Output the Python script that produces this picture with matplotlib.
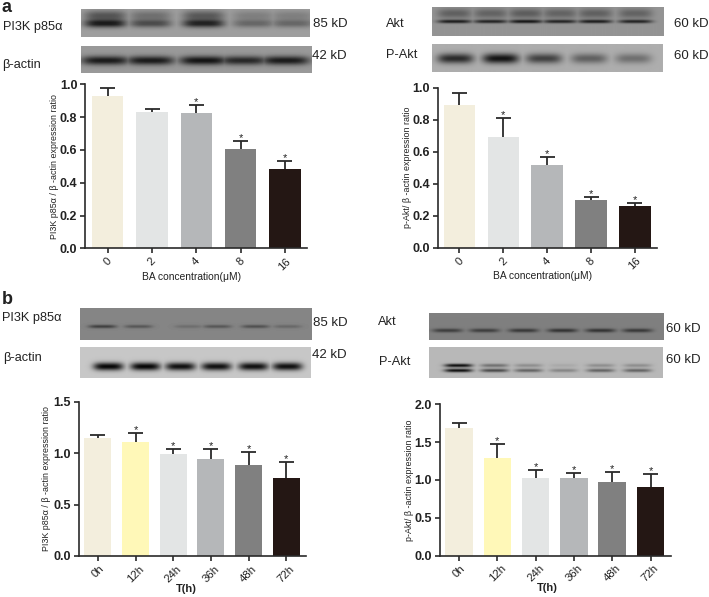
import matplotlib
matplotlib.use("Agg")
import matplotlib.pyplot as plt
import numpy as np

W, H = 709, 597
plt.rcParams['font.family'] = ['Liberation Sans', 'DejaVu Sans']

# bar data
ba_labels = ['0', '2', '4', '8', '16']
time_labels = ['0h', '12h', '24h', '36h', '48h', '72h']

pi3k_ba = [0.929, 0.831, 0.827, 0.606, 0.484]
pi3k_ba_err = [0.047, 0.021, 0.047, 0.048, 0.051]
pi3k_ba_star = [False, False, True, True, True]

akt_ba = [0.892, 0.690, 0.519, 0.300, 0.262]
akt_ba_err = [0.077, 0.118, 0.046, 0.019, 0.019]
akt_ba_star = [False, True, True, True, True]

pi3k_t = [1.147, 1.108, 0.991, 0.946, 0.884, 0.761]
pi3k_t_err = [0.029, 0.091, 0.046, 0.097, 0.123, 0.156]
pi3k_t_star = [False, True, True, True, True, True]

akt_t = [1.687, 1.291, 1.022, 1.022, 0.969, 0.907]
akt_t_err = [0.062, 0.180, 0.115, 0.066, 0.137, 0.177]
akt_t_star = [False, True, True, True, True, True]

colors_ba = ['#F3EEDD', '#E3E5E5', '#B5B7B9', '#808080', '#241714']
colors_t = ['#F3EEDD', '#FFF8B8', '#E3E5E5', '#B5B7B9', '#808080', '#241714']

# blot band strengths per lane (0-1)
blot_pi3k_ba = [0.95, 0.6, 0.9, 0.4, 0.4]
blot_actin_ba = [0.95, 0.95, 1.0, 0.85, 0.95]
blot_akt_ba = [0.9, 0.85, 0.95, 0.85, 0.9, 0.85]
blot_pakt_ba = [0.85, 1.0, 0.7, 0.5, 0.4]
blot_pi3k_t = [0.6, 0.4, 0.2, 0.4, 0.45, 0.25]
blot_actin_t = [1.0, 1.0, 0.95, 0.95, 0.95, 0.95]
blot_akt_t = [0.6, 0.6, 0.65, 0.7, 0.7, 0.65]
blot_pakt_t = [1.0, 0.65, 0.5, 0.3, 0.5, 0.5]


def box(x0, y0, x1, y1):
    # pixel box (y from the top) to figure coords
    return [x0 / W, 1 - y1 / H, (x1 - x0) / W, (y1 - y0) / H]


def label(x, y, s, size=9.2, **kw):
    fig.text(x / W, 1 - y / H, s, fontsize=size, va='center', color='#222222', **kw)


def blot(x0, y0, x1, y1, bg, strengths, centers, band_y, half_w, band_h, dark=0.08, smear=0.0, double=None):
    w, h = int(x1 - x0), int(y1 - y0)
    xx, yy = np.meshgrid(np.arange(w) + x0, np.arange(h) + y0)
    cover = np.zeros((h, w))
    for s, c in zip(strengths, centers):
        across = np.exp(-((xx - c) / half_w) ** 4)
        band = np.exp(-((yy - band_y) / band_h) ** 2)
        if double is not None:
            band = band + s * np.exp(-((yy - band_y + double) / band_h) ** 2)
        if smear:
            band = band + smear * np.exp(-((yy - band_y + 8) / 5.0) ** 2)
        cover = np.maximum(cover, s * across * np.minimum(band, 1))
    img = bg + (dark - bg) * cover
    ax = fig.add_axes(box(x0, y0, x1, y1))
    ax.imshow(img, cmap='gray', vmin=0, vmax=1, aspect='auto', interpolation='bilinear')
    ax.axis('off')


def bar_panel(rect, first, step, values, errs, stars, colors, labels, ymax, yticks, ylabel, xlabel, bw, ylab_x, xlab_x,
              xlab_y, xlab_size=7.4, xlab_weight='normal'):
    x0, y0, x1, y1 = rect
    ax = fig.add_axes(box(x0, y0, x1, y1))
    xs = np.arange(len(values))
    tops = np.array(values) + np.array(errs)
    cap = 7.5 / step
    ax.bar(xs, values, width=bw, color=colors, linewidth=0)
    # upper whisker only, as in the original
    ax.vlines(xs, values, tops, color='#2a2a2a', linewidth=1.3)
    ax.hlines(tops, xs - cap, xs + cap, color='#2a2a2a', linewidth=1.3)
    for i in xs:
        if stars[i]:
            ax.annotate('*', (i, tops[i]), xytext=(0, -1.5), textcoords='offset points',
                        ha='center', va='bottom', fontsize=8, color='#222222')
    ax.set_xlim((x0 - first) / step, (x1 - first) / step)
    ax.set_ylim(0, ymax)
    ax.set_yticks(yticks)
    ax.set_yticklabels(['%.1f' % t for t in yticks], fontsize=9, fontweight='bold', color='#222222')
    ax.set_xticks(xs)
    ax.set_xticklabels(labels, rotation=45, ha='center', fontsize=8.2, color='#222222')
    ax.tick_params(length=3.5, width=1.2, color='#2a2a2a', pad=2)
    for s in ['top', 'right']:
        ax.spines[s].set_visible(False)
    for s in ['left', 'bottom']:
        ax.spines[s].set_linewidth(1.2)
        ax.spines[s].set_color('#2a2a2a')
    fig.text(ylab_x / W, 1 - (y0 + y1) / 2 / H, ylabel, rotation=90, fontsize=6.4, ha='center', va='center',
             color='#222222')
    fig.text(xlab_x / W, 1 - xlab_y / H, xlabel, fontsize=xlab_size, ha='center', va='center',
             color='#222222', fontweight=xlab_weight)


fig = plt.figure(figsize=(W / 100, H / 100), dpi=100)

# panel a
fig.text(2 / W, 1 - 12 / H, 'a', fontsize=13, fontweight='bold', color='#222222', va='baseline')
label(3, 27, 'PI3K p85α')
label(2, 65, 'β-actin')
label(313, 24, '85 kD', size=9.5)
label(312, 56, '42 kD', size=9.5)
blot(81, 9, 310, 37, 0.62, blot_pi3k_ba, [105, 150, 203, 253, 292], 23, 21, 4.0, smear=0.55)
blot(81, 46, 312, 73, 0.6, blot_actin_ba, [105, 150, 203, 243, 285], 60, 24, 4.5)

label(386, 24, 'Akt')
label(386, 55, 'P-Akt')
label(674, 24, '60 kD', size=9.5)
label(674, 56, '60 kD', size=9.5)
blot(432, 7, 663, 36, 0.58, blot_akt_ba, [454, 490, 525, 559, 594, 634], 21, 17, 1.8, smear=0.45)
blot(432, 44, 662, 72, 0.68, blot_pakt_ba, [455, 500, 543, 588, 632], 58, 18, 5.0)

bar_panel((85, 84.3, 307, 248.3), 107.7, 44.3, pi3k_ba, pi3k_ba_err, pi3k_ba_star, colors_ba, ba_labels,
          1.0, [0, 0.2, 0.4, 0.6, 0.8, 1.0], 'PI3K p85α / β -actin expression ratio', 'BA concentration(μM)',
          0.707, 55, 192, 277)
bar_panel((437.7, 87.7, 657.3, 247.7), 459.3, 43.9, akt_ba, akt_ba_err, akt_ba_star, colors_ba, ba_labels,
          1.0, [0, 0.2, 0.4, 0.6, 0.8, 1.0], 'p-Akt/ β -actin expression ratio', 'BA concentration(μM)',
          0.715, 408, 543, 276)

# panel b
fig.text(2 / W, 1 - 304 / H, 'b', fontsize=13, fontweight='bold', color='#222222', va='baseline')
label(2, 318, 'PI3K p85α')
label(3, 358, 'β-actin')
label(313, 323, '85 kD', size=9.5)
label(312, 355, '42 kD', size=9.5)
blot(80, 308, 312, 340, 0.52, blot_pi3k_t, [102, 138, 188, 217, 255, 287], 326, 14, 1.8)
blot(80, 347, 311, 378, 0.78, blot_actin_t, [108, 145, 180, 216, 253, 287], 366, 15, 4.0, dark=0.03)

label(378, 322, 'Akt')
label(379, 362, 'P-Akt')
label(666, 329, '60 kD', size=9.5)
label(666, 360, '60 kD', size=9.5)
blot(429, 313, 664, 340, 0.5, blot_akt_t, [447, 484, 523, 562, 600, 637], 330, 15, 2.0)
blot(429, 347, 663, 378, 0.72, blot_pakt_t, [458, 494, 528, 563, 600, 637], 370, 14, 1.8, double=5)

bar_panel((78.7, 401.7, 306, 556), 97.8, 37.7, pi3k_t, pi3k_t_err, pi3k_t_star, colors_t, time_labels,
          1.5, [0, 0.5, 1.0, 1.5], 'PI3K p85α / β -actin expression ratio', 'T(h)', 0.716, 47, 186, 589,
          xlab_size=8, xlab_weight='bold')
bar_panel((439.7, 404.3, 670.7, 555.7), 459, 38.3, akt_t, akt_t_err, akt_t_star, colors_t, time_labels,
          2.0, [0, 0.5, 1.0, 1.5, 2.0], 'p-Akt/ β -actin expression ratio', 'T(h)', 0.72, 409, 547, 588,
          xlab_size=8, xlab_weight='bold')

fig.savefig('out.png', dpi=100)
